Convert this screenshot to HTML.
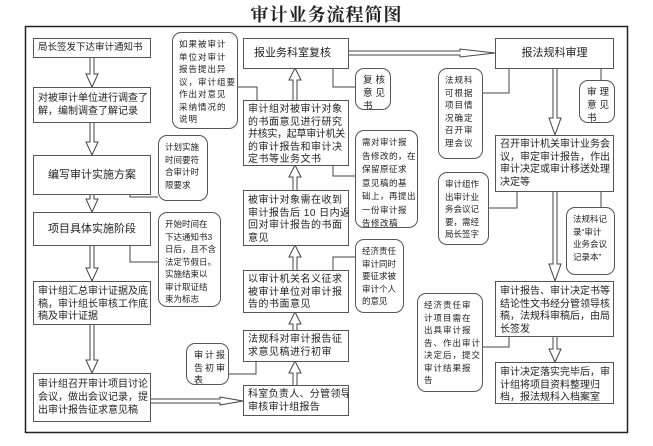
<!DOCTYPE html>
<html><head><meta charset="utf-8"><style>
body{margin:0;width:653px;height:446px;background:#fff;position:relative;overflow:hidden;font-family:"Liberation Sans","Noto Sans CJK SC",sans-serif;color:#222}
.b{position:absolute;border:1px solid #555;box-sizing:border-box;background:#fff;font-size:9.5px;line-height:12.5px;padding:3px 3px;white-space:nowrap;overflow:hidden}
.n{position:absolute;border:1px solid #555;border-radius:9px;box-sizing:border-box;background:#fff;font-size:8.5px;line-height:12.5px;padding:5px 3px 0 6px;white-space:nowrap;overflow:hidden}
.c{display:flex;align-items:center;justify-content:center;padding:0}
.t{position:absolute;left:0;width:653px;top:1px;text-align:center;font-family:"Liberation Serif","Noto Serif CJK SC",serif;font-weight:bold;font-size:18px;letter-spacing:1px}
svg{position:absolute;left:0;top:0}
</style></head><body>
<div class="t">审计业务流程简图</div>
<svg width="653" height="446">
<rect x="25.5" y="26.5" width="602" height="406" fill="none" stroke="#222" stroke-width="1.5"/>
<g fill="none" stroke="#444" stroke-width="1">
<polyline points="130,194 130,197 158,197"/>
<polyline points="130,245 130,262 158,262"/>
<polyline points="237,87 257,87 257,100"/>
<polyline points="228,374 256,374 256,361"/>
<polyline points="333,68 333,87 355,87"/>
<polyline points="333,165 333,176 355,176"/>
<polyline points="333,270 333,257 355,257"/>
<polyline points="509,68 509,93 482,93"/>
<polyline points="601,68 601,80"/>
<polyline points="517,191 517,208 488,208"/>
<polyline points="601,191 601,207"/>
<polyline points="509,336 509,347 482,347"/>
</g>
<g fill="#fff" stroke="#444" stroke-width="1">
<polyline points="90,57 90,74 86,74 92,87 98,74 94,74 94,57"/>
<polyline points="90,122 90,142 86,142 92,155 98,142 94,142 94,122"/>
<polyline points="90,194 90,199 86,199 92,212 98,199 94,199 94,194"/>
<polyline points="90,245 90,268 86,268 92,281 98,268 94,268 94,245"/>
<polyline points="90,324 90,360 86,360 92,373 98,360 94,360 94,324"/>
<polyline points="293,100 293,80 289,80 295,68 301,80 297,80 297,100"/>
<polyline points="293,190 293,177 289,177 295,165 301,177 297,177 297,190"/>
<polyline points="293,270 293,257 289,257 295,245 301,257 297,257 297,270"/>
<polyline points="293,330 293,324 289,324 295,312 301,324 297,324 297,330"/>
<polyline points="293,385 293,373 289,373 295,361 301,373 297,373 297,385"/>
<polyline points="553,68 553,118 549,118 555,135 561,118 557,118 557,68"/>
<polyline points="553,191 553,264 549,264 555,281 561,264 557,264 557,191"/>
<polyline points="553,336 553,349 549,349 555,362 561,349 557,349 557,336"/>
<polyline points="348,51 460,51 460,49 495,53 460,57 460,55 348,55"/>
<polyline points="151,399 220,399 220,397 243,401 220,405 220,403 151,403"/>
</g>
</svg>
<div class="b c" style="left:33px;top:38px;width:118px;height:20px;justify-content:flex-start;padding-left:4px">局长签发下达审计通知书</div>
<div class="b" style="left:33px;top:87px;width:118px;height:36px;padding:4px 4px;font-size:10px;line-height:13px">对被审计单位进行调查了<br>解，编制调查了解记录</div>
<div class="b c" style="left:33px;top:155px;width:118px;height:40px;font-size:11px">编写审计实施方案</div>
<div class="b c" style="left:33px;top:212px;width:118px;height:34px;font-size:11px">项目具体实施阶段</div>
<div class="b" style="left:33px;top:281px;width:118px;height:44px;padding:4px 4px;font-size:10px;line-height:12.5px">审计组汇总审计证据及底<br>稿，审计组长审核工作底<br>稿及审计证据</div>
<div class="b" style="left:33px;top:373px;width:118px;height:49px;padding:4px 4px;font-size:10px;line-height:13px">审计组召开审计项目讨论<br>会议，做出会议记录，提<br>出审计报告征求意见稿</div>
<div class="n" style="left:158px;top:135px;width:50px;height:66px">计划实施<br>时间要符<br>合审计时<br>限要求</div>
<div class="n" style="left:158px;top:212px;width:63px;height:95px">开始时间在<br>下达通知书3<br>日后，且不含<br>法定节假日。<br>实施结束以<br>审计取证结<br>束为标志</div>
<div class="n" style="left:172px;top:32px;width:66px;height:97px;letter-spacing:1px">如果被审计<br>单位对审计<br>报告提出异<br>议，审计组要<br>作出对意见<br>采纳情况的<br>说明</div>
<div class="n" style="left:186px;top:343px;width:43px;height:42px;font-size:9px;letter-spacing:2px;padding-left:7px">审计报<br>告初审<br>表</div>
<div class="b c" style="left:243px;top:38px;width:106px;height:31px;font-size:11px;justify-content:flex-start;padding-left:10px">报业务科室复核</div>
<div class="b" style="left:243px;top:100px;width:106px;height:66px;padding:3px 4px;font-size:10px;letter-spacing:0.5px">审计组对被审计对象<br>的书面意见进行研究<br><span style="letter-spacing:-0.3px">并核实，起草审计机关</span><br>的审计报告和审计决<br>定书等业务文书</div>
<div class="b" style="left:243px;top:190px;width:106px;height:56px;padding:4px 4px;font-size:10px;letter-spacing:0.5px">被审计对象需在收到<br>审计报告后 10 日内返<br>回对审计报告的书面<br>意见</div>
<div class="b" style="left:243px;top:270px;width:106px;height:43px;padding:3px 4px;font-size:10px;letter-spacing:0.5px">以审计机关名义征求<br>被审计单位对审计报<br>告的书面意见</div>
<div class="b" style="left:243px;top:330px;width:106px;height:32px;padding:3px 4px;font-size:10px;letter-spacing:0.5px">法规科对审计报告征<br>求意见稿进行初审</div>
<div class="b" style="left:243px;top:385px;width:106px;height:31px;padding:3px 4px;font-size:10px;letter-spacing:0.3px">科室负责人、分管领导<br>审核审计组报告</div>
<div class="n" style="left:355px;top:68px;width:36px;height:42px;font-size:9.5px;letter-spacing:3px;line-height:13px;padding-left:7px">复核<br>意见<br>书</div>
<div class="n" style="left:355px;top:130px;width:63px;height:98px;line-height:13.5px;letter-spacing:0.5px">需对审计报<br>告修改的，在<br>保留原征求<br>意见稿的基<br>础上，再提出<br>一份审计报<br>告修改稿</div>
<div class="n" style="left:355px;top:239px;width:49px;height:74px">经济责任<br>审计同时<br>要征求被<br>审计个人<br>的意见</div>
<div class="b c" style="left:495px;top:38px;width:119px;height:31px;font-size:11px">报法规科审理</div>
<div class="b" style="left:495px;top:135px;width:119px;height:57px;padding:3px 4px;font-size:10px">召开审计机关审计业务会<br>议，审定审计报告，作出<br>审计决定或审计移送处理<br>决定等</div>
<div class="b" style="left:495px;top:281px;width:119px;height:56px;padding:4px 4px;font-size:10px">审计报告、审计决定书等<br>结论性文书经分管领导核<br>稿，法规科审稿后，由局<br>长签发</div>
<div class="b" style="left:495px;top:362px;width:119px;height:42px;padding:4px 4px;font-size:10px">审计决定落实完毕后，审<br>计组将项目资料整理归<br>档，报法规科入档案室</div>
<div class="n" style="left:438px;top:68px;width:45px;height:91px;letter-spacing:1px">法规科<br>可根据<br>项目情<br>况确定<br>召开审<br>理会议</div>
<div class="n" style="left:579px;top:80px;width:36px;height:43px;font-size:9.5px;letter-spacing:3px;line-height:13px;padding-left:7px">审理<br>意见<br>书</div>
<div class="n" style="left:438px;top:172px;width:51px;height:73px">审计组作<br>出审计业<br>务会议记<br>要，需经<br>局长签字</div>
<div class="n" style="left:566px;top:207px;width:49px;height:68px">法规科记<br>录“审计<br>业务会议<br>记录本”</div>
<div class="n" style="left:417px;top:293px;width:66px;height:99px;letter-spacing:1px">经济责任审<br>计项目需在<br>出具审计报<br>告、作出审计<br>决定后，提交<br>审计结果报<br>告</div>
</body></html>
